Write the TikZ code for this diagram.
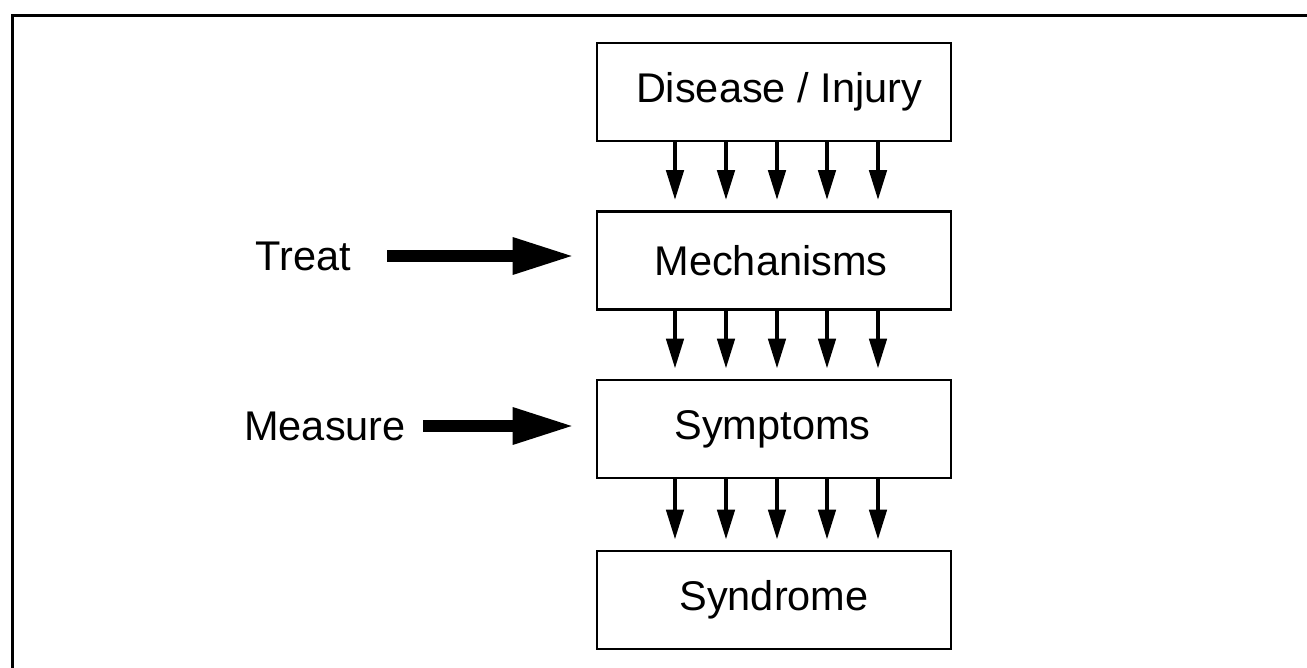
\documentclass[tikz,border=0pt]{standalone}
\usepackage{fontspec}
\setmainfont{Liberation Sans}
\usetikzlibrary{arrows.meta}
\begin{document}
\begin{tikzpicture}[x=1pt,y=-1pt,
  stagebox/.style={draw,line width=2.6pt,minimum width=354pt,minimum height=98pt,inner sep=0pt,font=\fontsize{41.5}{48}\selectfont},
  lbl/.style={inner sep=0pt,anchor=east,font=\fontsize{41.5}{48}\selectfont},
  smallarrow/.style={line width=4.5pt,-{Triangle[length=30pt,width=17pt]},shorten >=10pt},
  bigarrow/.style={line width=12pt,-{Triangle[length=62pt,width=34pt]}},
  frameline/.style={line width=3pt}]
\useasboundingbox (0,0) rectangle (1307,668);
\draw[frameline] (12,668) -- (12,16) -- (1307,16);
\node[stagebox] (dis) at (774,92) {\hspace*{10pt}Disease / Injury};
\node[stagebox] (mech) at (774,260.5) {Mechanisms\hspace*{6pt}};
\node[stagebox] (sym) at (774,429) {Symptoms\hspace*{3pt}};
\node[stagebox] (syn) at (774,600) {Syndrome};
\foreach \a/\b in {dis/mech,mech/sym,sym/syn}{
  \foreach \dx in {-99,-48,3,53,104}{
    \draw[smallarrow] ([xshift=\dx pt]\a.south) -- ([xshift=\dx pt]\b.north);
  }
}
\node[lbl] (treat) at (351,256) {Treat};
\node[lbl] (meas) at (406,426) {Measure};
\draw[bigarrow] ([xshift=36pt]treat.east) -- ([xshift=-21pt]mech.west |- treat.east);
\draw[bigarrow] ([xshift=17pt]meas.east) -- ([xshift=-21pt]sym.west |- meas.east);
\end{tikzpicture}
\end{document}
